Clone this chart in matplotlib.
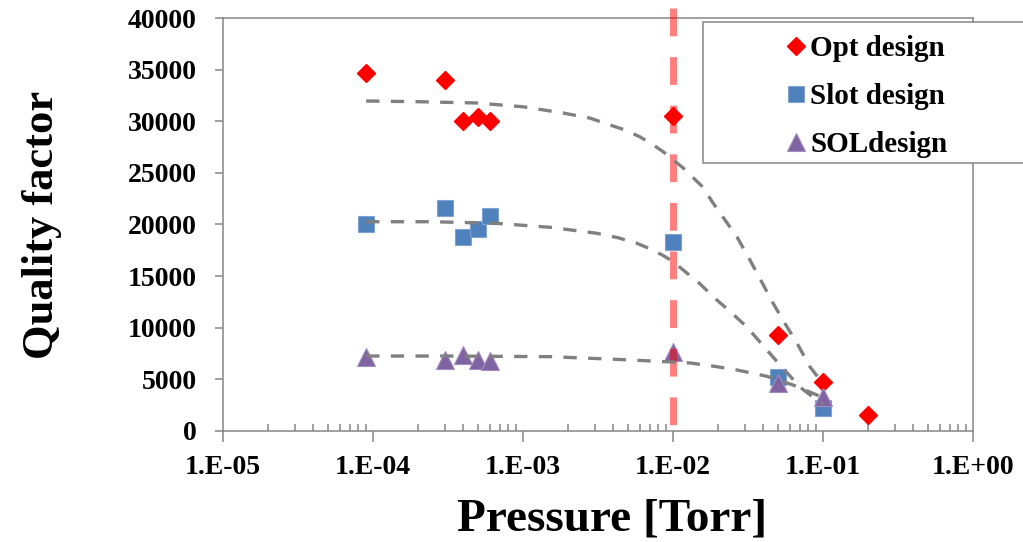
import matplotlib
matplotlib.use("Agg")
import matplotlib.pyplot as plt
from matplotlib.ticker import FixedLocator, FixedFormatter, LogLocator, NullFormatter
from matplotlib.patches import Rectangle

# measured points
pressure = [9e-5, 3e-4, 4e-4, 5e-4, 6e-4, 1e-2, 5e-2, 1e-1]
opt_p = [9e-5, 3e-4, 4e-4, 5e-4, 6e-4, 1e-2, 5e-2, 1e-1, 2e-1]
opt_q = [34700, 33950, 30050, 30450, 30050, 30550, 9250, 4750, 1550]
slot_q = [20050, 21600, 18750, 19550, 20850, 18300, 5250, 2250]
sol_q = [7150, 6900, 7350, 6900, 6800, 7650, 4650, 3300]

# trend lines
opt_fit_p = [9e-5, 1.9e-4, 4.9e-4, 1e-3, 1.85e-3, 2.8e-3, 3.8e-3, 4.8e-3, 6e-3, 7.2e-3,
             8.6e-3, 1.17e-2, 1.58e-2, 1.85e-2, 2.67e-2, 3.26e-2, 4.64e-2, 5.4e-2,
             6.7e-2, 8.2e-2, 1e-1]
opt_fit_q = [31960, 31900, 31770, 31400, 30800, 30300, 29640, 29150, 28500, 27820,
             27050, 25470, 23630, 22080, 18790, 16560, 12400, 10750,
             8520, 6200, 4600]
slot_fit_p = [9e-5, 2.5e-4, 6.7e-4, 1.51e-3, 3.1e-3, 4.3e-3, 5.75e-3, 7e-3, 8.6e-3,
              1e-2, 1.17e-2, 1.5e-2, 1.96e-2, 2.5e-2, 3.11e-2, 4.64e-2, 7e-2, 9.1e-2, 1e-1]
slot_fit_q = [20270, 20270, 20110, 19730, 19150, 18720, 18180, 17650, 17000,
              16400, 15590, 14300, 12690, 11350, 10070, 7170, 4260, 3000, 2600]
sol_fit_p = [9e-5, 3.26e-4, 1.51e-3, 4.2e-3, 9.1e-3, 1.3e-2, 1.96e-2, 2.67e-2,
             4.23e-2, 6.3e-2, 9.1e-2, 1e-1]
sol_fit_q = [7260, 7260, 7200, 6940, 6710, 6590, 6230, 5910,
             5300, 4460, 3490, 3200]

vline_p = 1e-2
xtick_vals = [1e-5, 1e-4, 1e-3, 1e-2, 1e-1, 1e0]
xtick_labels = ["1.E-05", "1.E-04", "1.E-03", "1.E-02", "1.E-01", "1.E+00"]
ytick_vals = [0, 5000, 10000, 15000, 20000, 25000, 30000, 35000, 40000]

serif = "Liberation Serif"
gray = "#868686"

fig = plt.figure(figsize=(10.23, 5.42), dpi=100)
ax = fig.add_axes([223 / 1023, 1 - 431 / 542, 750 / 1023, 413 / 542])

ax.plot(opt_p, opt_q, "D", color="#FF0000", ms=9, mec="#FF0000", zorder=3, label="Opt design")
ax.plot(pressure, slot_q, "s", color="#4F81BD", ms=12, mec="#7FA3D0", mew=0.8, zorder=3, label="Slot design")
ax.plot(pressure, sol_q, "^", color="#8064A2", ms=13, mec="#A08CC0", mew=0.8, zorder=3, label="SOLdesign")

ax.axvline(vline_p, ymin=1.025, ymax=0, color="#FF0000", alpha=0.5, lw=5,
           dashes=(4, 3), solid_capstyle="butt", dash_capstyle="butt", clip_on=False, zorder=4)

for fp, fq in [(opt_fit_p, opt_fit_q), (slot_fit_p, slot_fit_q), (sol_fit_p, sol_fit_q)]:
    ax.plot(fp, fq, color="#808080", lw=2.4, dashes=(4, 3.4), dash_capstyle="butt", zorder=5)

ax.set_xscale("log")
ax.set_xlim(1e-5, 1)
ax.set_ylim(0, 40000)

ax.xaxis.set_major_locator(FixedLocator(xtick_vals))
ax.xaxis.set_major_formatter(FixedFormatter(xtick_labels))
ax.xaxis.set_minor_locator(LogLocator(base=10, subs=range(2, 10), numticks=20))
ax.xaxis.set_minor_formatter(NullFormatter())
ax.set_yticks(ytick_vals)
ax.set_yticklabels([str(v) for v in ytick_vals])

for s in ax.spines.values():
    s.set_color(gray)
    s.set_linewidth(1.1)

ax.tick_params(axis="x", which="major", direction="out", length=8, width=1.1, color=gray, pad=9)
ax.tick_params(axis="x", which="minor", direction="in", length=5, width=1.1, color=gray)
ax.tick_params(axis="y", which="major", direction="out", length=6, width=1.1, color=gray, pad=13)
for lab in ax.get_xticklabels() + ax.get_yticklabels():
    lab.set_fontfamily(serif)
    lab.set_fontweight("bold")
    lab.set_fontsize(20)

ax.set_xlabel("Pressure [Torr]", fontfamily=serif, fontweight="bold", fontsize=34)
ax.xaxis.set_label_coords(0.519, -0.163)
ax.set_ylabel("Quality factor", fontfamily=serif, fontweight="bold", fontsize=32)
ax.yaxis.set_label_coords(-0.214, 0.5)

# legend box
fig.patches.append(Rectangle((703 / 1023, 1 - 163 / 542), 0.5, 141 / 542,
                             transform=fig.transFigure, facecolor="white",
                             edgecolor=gray, lw=1.1, zorder=6))
leg = fig.legend(loc="upper left", bbox_to_anchor=(784 / 1023, 1 - 35 / 542),
                 frameon=False, handlelength=0.8, handletextpad=0.1,
                 labelspacing=0.72, borderpad=0, borderaxespad=0,
                 prop={"family": serif, "weight": "bold", "size": 21})
leg.set_zorder(7)

fig.savefig("out.png", dpi=100)
